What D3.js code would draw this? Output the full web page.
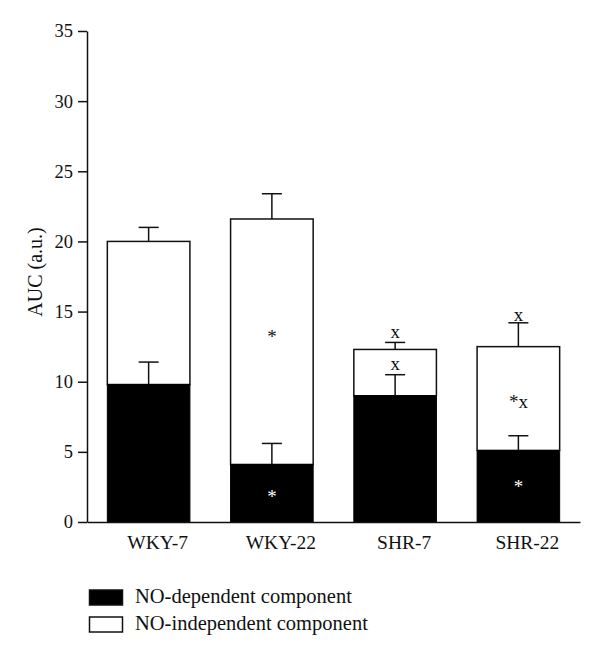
<!DOCTYPE html>
<html><head><meta charset="utf-8">
<script src="https://cdn.jsdelivr.net/npm/d3@7"></script>
<style>body{margin:0;background:#fff}svg text{font-family:"Liberation Serif","Times New Roman",serif}</style>
</head><body><div id="chart"></div>
<script>
const categories = ["WKY-7", "WKY-22", "SHR-7", "SHR-22"];
const noDependent = [9.8, 4.1, 9.0, 5.1];
const noDependentErr = [1.6, 1.5, 1.5, 1.05];
const totalAUC = [20.0, 21.6, 12.3, 12.5];
const totalErr = [1.0, 1.8, 0.5, 1.7];
const yTicks = [0, 5, 10, 15, 20, 25, 30, 35];
const seriesNames = ["NO-dependent component", "NO-independent component"];
// significance marks: [category, text, baseline value, colour key]
const marks = [
  ["WKY-22", "*", 12.76, "dark"],
  ["WKY-22", "*", 1.35, "light"],
  ["SHR-7", "x", 13.1, "dark"],
  ["SHR-7", "x", 10.83, "dark"],
  ["SHR-22", "x", 14.3, "dark"],
  ["SHR-22", "*x", 8.1, "dark"],
  ["SHR-22", "*", 2.07, "light"]
];

const W = 600, H = 657;
const svg = d3.select("#chart").append("svg").attr("width", W).attr("height", H);
const x = d3.scaleBand().domain(categories).range([87, 580]).paddingInner(0.33).paddingOuter(0.165);
const y = d3.scaleLinear().domain([0, 35]).range([522, 31]);
const ink = "#111";

const g = svg.append("g");
categories.forEach((c, i) => {
  const x0 = x(c), bw = x.bandwidth(), cx = x0 + bw / 2;
  const tTop = y(totalAUC[i] + totalErr[i]);
  g.append("line").attr("x1", cx).attr("x2", cx).attr("y1", y(totalAUC[i])).attr("y2", tTop).attr("stroke", ink).attr("stroke-width", 1.5);
  g.append("line").attr("x1", cx - 10).attr("x2", cx + 10).attr("y1", tTop).attr("y2", tTop).attr("stroke", ink).attr("stroke-width", 1.5);
  g.append("rect").attr("x", x0).attr("width", bw).attr("y", y(totalAUC[i])).attr("height", y(noDependent[i]) - y(totalAUC[i])).attr("fill", "#fff").attr("stroke", ink).attr("stroke-width", 1.5);
  const dTop = y(noDependent[i] + noDependentErr[i]);
  g.append("line").attr("x1", cx).attr("x2", cx).attr("y1", y(noDependent[i])).attr("y2", dTop).attr("stroke", ink).attr("stroke-width", 1.5);
  g.append("line").attr("x1", cx - 10).attr("x2", cx + 10).attr("y1", dTop).attr("y2", dTop).attr("stroke", ink).attr("stroke-width", 1.5);
  g.append("rect").attr("x", x0).attr("width", bw).attr("y", y(noDependent[i])).attr("height", y(0) - y(noDependent[i])).attr("fill", "#000").attr("stroke", "#000").attr("stroke-width", 1);
});

marks.forEach(m => {
  svg.append("text").attr("x", x(m[0]) + x.bandwidth() / 2).attr("y", y(m[2]))
    .attr("text-anchor", "middle").attr("font-size", 19)
    .style("fill", m[3] === "light" ? "#fff" : ink).text(m[1]);
});

const yAxis = svg.append("g").attr("transform", "translate(87,0)")
  .call(d3.axisLeft(y).tickValues(yTicks).tickSize(9).tickSizeOuter(0).tickPadding(5));
yAxis.select(".domain").attr("stroke", ink).attr("stroke-width", 1.5);
yAxis.selectAll(".tick line").attr("stroke", ink).attr("stroke-width", 1.5);
yAxis.selectAll("text").attr("font-size", 18.5).attr("font-family", "Liberation Serif, serif").style("fill", ink);

const xAxis = svg.append("g").attr("transform", "translate(0,522)")
  .call(d3.axisBottom(x).tickSize(0).tickPadding(13));
xAxis.select(".domain").attr("stroke", ink).attr("stroke-width", 1.5);
xAxis.selectAll("text").attr("font-size", 19.5).attr("dx", 9).attr("font-family", "Liberation Serif, serif").style("fill", ink);

svg.append("text").attr("transform", "translate(42,272) rotate(-90)").attr("text-anchor", "middle")
  .attr("font-size", 20).style("fill", ink).text("AUC (a.u.)");

const lg = svg.append("g");
seriesNames.forEach((n, i) => {
  const yy = 590 + i * 27;
  lg.append("rect").attr("x", 89.5).attr("y", yy).attr("width", 33).attr("height", 15)
    .attr("fill", i === 0 ? "#000" : "#fff").attr("stroke", ink).attr("stroke-width", 1.5);
  lg.append("text").attr("x", 135).attr("y", yy + 13).attr("font-size", 20.5).style("fill", ink).text(n);
});
</script></body></html>
